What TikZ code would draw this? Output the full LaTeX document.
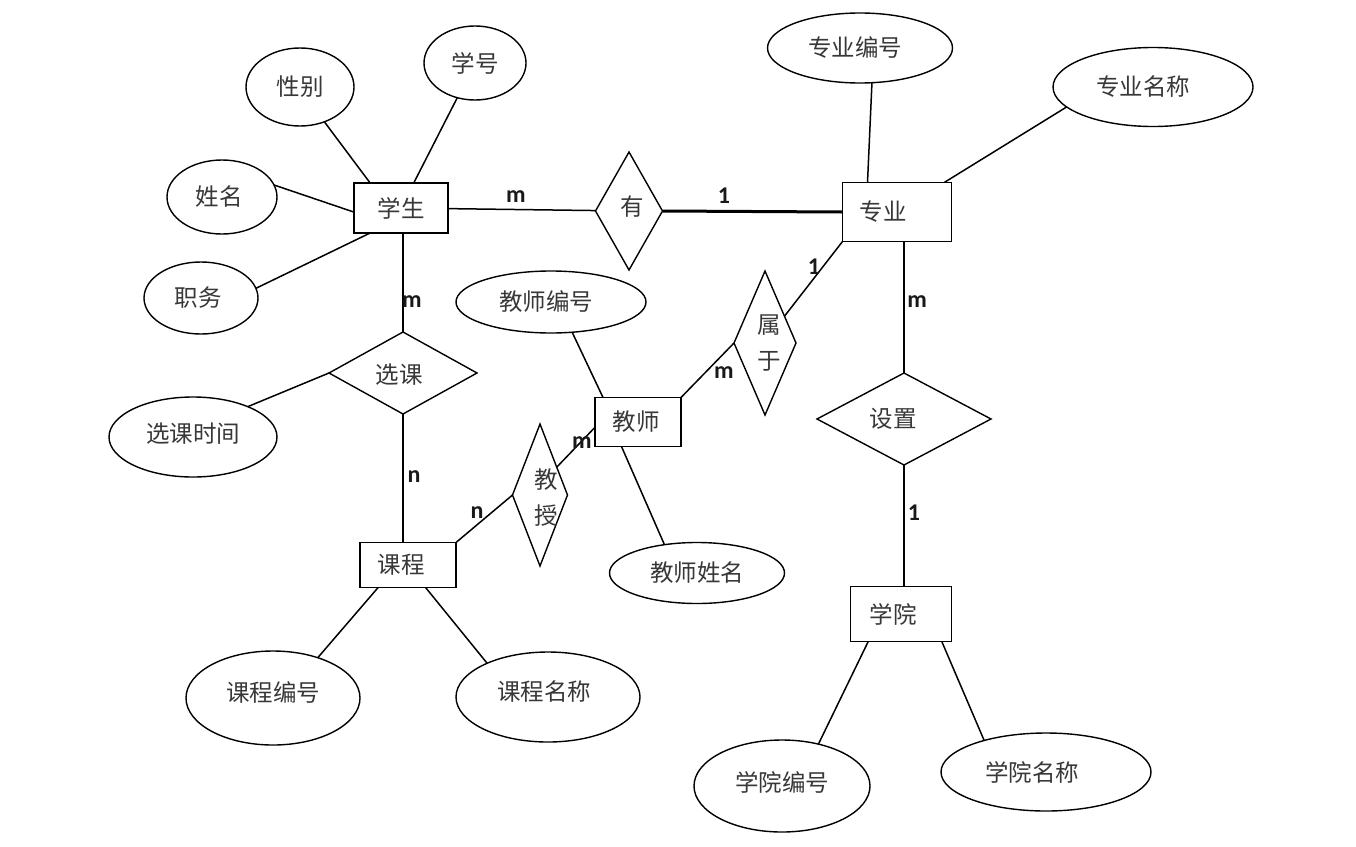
\documentclass[tikz,border=0pt]{standalone}
\usepackage{fontspec}
\newfontfamily\cjk{Noto Sans CJK SC}
\newfontfamily\latf{Carlito}
\usetikzlibrary{shapes.geometric}
\begin{document}
\begin{tikzpicture}[x=1pt,y=-1pt,
  txt/.style={font=\cjk\fontsize{23.5}{36}\selectfont, text=black!78, inner sep=0pt, align=center},
  shp/.style={draw=black, line width=1.4pt, inner sep=0pt, outer sep=0pt, fill=white},
  ent/.style={shp, rectangle},
  rel/.style={shp, diamond},
  att/.style={shp, ellipse},
  conn/.style={line width=1.5pt},
  strong/.style={line width=3pt},
  card/.style={font=\latf\bfseries\fontsize{24}{26}\selectfont, inner sep=0pt, text=black!90}
]
\fill[white] (0,0) rectangle (1356,846);
\useasboundingbox (0,0) rectangle (1356,846);

% entities
\node[ent,minimum width=94pt,minimum height=50pt,label={[txt]center:学生}] (xs) at (401,208) {};
\node[ent,minimum width=109pt,minimum height=59pt,label={[txt,xshift=-14pt]center:专业}] (zy) at (897,212) {};
\node[ent,minimum width=86pt,minimum height=49pt,label={[txt,xshift=-2pt]center:教师}] (js) at (638,422) {};
\node[ent,minimum width=96pt,minimum height=45pt,label={[txt,xshift=-7pt]center:课程}] (kc) at (408,565) {};
\node[ent,minimum width=101pt,minimum height=55pt,label={[txt,xshift=-8pt]center:学院}] (xy) at (901,614) {};

% relationships
\node[rel,minimum width=67pt,minimum height=118pt,label={[txt,xshift=3pt,yshift=4pt]center:有}] (you) at (629,211) {};
\node[rel,minimum width=148pt,minimum height=82pt,label={[txt,xshift=-4pt,yshift=-2pt]center:选课}] (xk) at (403,373) {};
\node[rel,minimum width=62pt,minimum height=144pt,label={[txt,xshift=4pt]center:{属\\于}}] (sy) at (765,343) {};
\node[rel,minimum width=55pt,minimum height=142pt,label={[txt,xshift=6pt,yshift=-3pt]center:{教\\授}}] (jsh) at (540,495) {};
\node[rel,minimum width=174pt,minimum height=92pt,label={[txt,xshift=-11pt]center:设置}] (sz) at (904,419) {};

% attributes
\node[att,minimum width=108pt,minimum height=78pt,label={[txt]center:性别}] (xb) at (300,87) {};
\node[att,minimum width=102pt,minimum height=74pt,label={[txt]center:学号}] (xh) at (475,63) {};
\node[att,minimum width=110pt,minimum height=74pt,label={[txt,xshift=-3pt]center:姓名}] (xm) at (222,197) {};
\node[att,minimum width=114pt,minimum height=72pt,label={[txt,xshift=-3pt]center:职务}] (zw) at (201,298) {};
\node[att,minimum width=168pt,minimum height=80pt,label={[txt,yshift=3pt]center:选课时间}] (xksj) at (193,437) {};
\node[att,minimum width=190pt,minimum height=62pt,label={[txt,xshift=-5pt]center:教师编号}] (jsbh) at (551,302) {};
\node[att,minimum width=175pt,minimum height=61pt,label={[txt]center:教师姓名}] (jsxm) at (697,573) {};
\node[att,minimum width=174pt,minimum height=94pt,label={[txt,yshift=6pt]center:课程编号}] (kcbh) at (273,698) {};
\node[att,minimum width=184pt,minimum height=90pt,label={[txt,xshift=-4pt,yshift=5pt]center:课程名称}] (kcmc) at (548,697) {};
\node[att,minimum width=185pt,minimum height=70pt,label={[txt,xshift=-5pt]center:专业编号}] (zybh) at (860,48) {};
\node[att,minimum width=200pt,minimum height=79pt,label={[txt,xshift=-10pt]center:专业名称}] (zymc) at (1153,87) {};
\node[att,minimum width=176pt,minimum height=92pt,label={[txt,yshift=4pt]center:学院编号}] (xybh) at (782,786) {};
\node[att,minimum width=210pt,minimum height=78pt,label={[txt,xshift=-14pt]center:学院名称}] (xymc) at (1046,772) {};

% connectors
\draw[conn] (xb.305) -- (xs.141);
\draw[conn] (xh) -- (xs);
\draw[conn] (xm.13) -- (xs.185);
\draw[conn] (zw.10) -- (xs.219);
\draw[conn] (xs) -- (you);
\draw[strong] (you.east) -- (zy.west);
\draw[conn] (zybh.289) -- (zy.135);
\draw[conn] (zymc.193) -- (zy.32);
\draw[conn] (zy.south west) -- (sy.54);
\draw[conn] (js.north east) -- (sy.west);
\draw[conn] (zy.south -| sz.north) -- (sz.north);
\draw[conn] (sz.south) -- (sz.south |- xy.north);
\draw[conn] (xy.220) -- (xybh.49);
\draw[conn] (xy.-34) -- (xymc.153);
\draw[conn] (xs.south -| xk.north) -- (xk.north);
\draw[conn] (xksj.29) -- (xk.west);
\draw[conn] (xk.south) -- (xk.south |- kc.north);
\draw[conn] (kc.north east) -- (jsh.west);
\draw[conn] (jsh.59) -- (js.187);
\draw[conn] (jsbh.-55) -- (js.145);
\draw[conn] (js.236) -- (jsxm.139);
\draw[conn] (kc.217) -- (kcbh.42);
\draw[conn] (kc.-52) -- (kcmc.151);

% cardinalities
\node[card] (m1) at (516,197) {m};
\node[card] (o1) at (724,196) {1};
\node[card] (o2) at (814,267) {1};
\node[card] (m2) at (917,302) {m};
\node[card] (m3) at (724,373) {m};
\node[card] (o3) at (914,513) {1};
\node[card] (m4) at (412,302) {m};
\node[card] (n1) at (414,477) {n};
\node[card] (n2) at (477,513) {n};
\node[card] (m5) at (582,443) {m};
\end{tikzpicture}
\end{document}
